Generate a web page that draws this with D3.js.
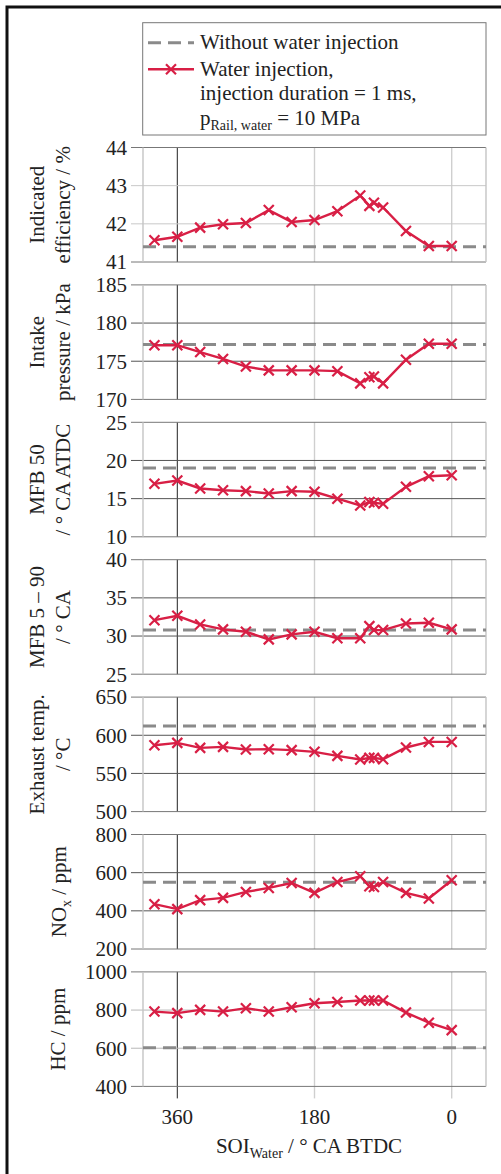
<!DOCTYPE html>
<html>
<head>
<meta charset="utf-8">
<title>Water injection SOI sweep</title>
<script src="https://d3js.org/d3.v7.min.js"></script>
<style>
  body { margin: 0; background: #fff; }
  svg text { font-family: "Liberation Serif", "Times New Roman", Times, "DejaVu Serif", serif; fill: #222; }
</style>
</head>
<body>
<svg id="chart" width="501" height="1174"></svg>
<script>
// start of water injection, ° CA BTDC
const soi = [390, 360, 330, 300, 270, 240, 210, 180, 150, 120, 108, 102, 90, 60, 30, 0];

// water injection series, one per panel
const efficiency     = [41.57, 41.66, 41.9, 41.99, 42.02, 42.36, 42.05, 42.1, 42.33, 42.74, 42.47, 42.55, 42.43, 41.81, 41.42, 41.42];
const intakePressure = [177.1, 177.1, 176.2, 175.3, 174.3, 173.8, 173.8, 173.8, 173.7, 172.1, 172.9, 173.0, 172.1, 175.2, 177.3, 177.3];
const mfb50          = [16.94, 17.37, 16.33, 16.1, 15.98, 15.68, 15.98, 15.9, 14.99, 14.1, 14.55, 14.45, 14.34, 16.55, 17.93, 18.06];
const mfb590         = [32.08, 32.65, 31.52, 30.87, 30.56, 29.56, 30.22, 30.56, 29.7, 29.7, 31.3, 30.78, 30.78, 31.65, 31.73, 30.87];
const exhaustTemp    = [587, 590, 583.5, 584.8, 581.4, 581.8, 580.5, 578.3, 573, 568.3, 570.4, 570.4, 568.7, 584, 591.3, 591.3];
const nox            = [435, 409, 456, 468, 499, 520, 546, 494, 551, 581, 529, 525, 551, 494, 465, 560];
const hc             = [792, 784, 801, 792, 810, 792, 815, 836, 842, 850, 850, 850, 850, 787, 734, 695];

// reference without water injection
const baseline = [41.4, 177.2, 19.0, 30.8, 612, 550, 603];

// y tick values per panel
const ticksEff  = [41, 42, 43, 44];
const ticksPres = [170, 175, 180, 185];
const ticksMfb50 = [10, 15, 20, 25];
const ticksMfb590 = [25, 30, 35, 40];
const ticksExh  = [500, 550, 600, 650];
const ticksNox  = [200, 400, 600, 800];
const ticksHc   = [400, 600, 800, 1000];

const xTicks = [360, 180, 0];

const red = "#d81f45";
const dashGray = "#8a8a8a";

const panels = [
  { values: efficiency, ticks: ticksEff, label: ["Indicated", "efficiency / %"], grid: "#c8c8c8" },
  { values: intakePressure, ticks: ticksPres, label: ["Intake", "pressure / kPa"], grid: "#555" },
  { values: mfb50, ticks: ticksMfb50, label: ["MFB 50", "/ ° CA ATDC"], grid: "#555" },
  { values: mfb590, ticks: ticksMfb590, label: ["MFB 5 – 90", "/ ° CA"], grid: "#555" },
  { values: exhaustTemp, ticks: ticksExh, label: ["Exhaust temp.", "/ °C"], grid: "#555" },
  { values: nox, ticks: ticksNox, label: ["NOx"], grid: "#555" },
  { values: hc, ticks: ticksHc, label: ["HC / ppm"], grid: "#b8b8b8" }
];

const svg = d3.select("#chart");

// outer frame (only the top and left edges fall inside the picture)
svg.append("rect")
  .attr("x", 7).attr("y", 7)
  .attr("width", 520).attr("height", 1200)
  .attr("fill", "none").attr("stroke", "#111").attr("stroke-width", 3);

const left = 143, right = 486;
const x = d3.scaleLinear().domain([405, -45]).range([left, right]);

const top0 = 147.5, pitch = 137.4, ph = 114.5;

// X shape marker
function cross(sel, s) {
  sel.append("path")
    .attr("d", `M${-s},${-s}L${s},${s}M${-s},${s}L${s},${-s}`)
    .attr("stroke", red).attr("stroke-width", 2.2).attr("fill", "none");
}

panels.forEach(function (p, i) {
  const top = top0 + i * pitch;
  const bottom = top + ph;
  const ext = d3.extent(p.ticks);
  const y = d3.scaleLinear().domain(ext).range([bottom, top]);

  const g = svg.append("g");

  // vertical grid
  g.selectAll(".vg").data(xTicks).enter().append("line")
    .attr("x1", d => x(d)).attr("x2", d => x(d))
    .attr("y1", top).attr("y2", i === panels.length - 1 ? bottom + 12 : bottom)
    .attr("stroke", d => d === 360 ? "#222" : "#cfcfcf")
    .attr("stroke-width", d => d === 360 ? 1 : 1.4);

  // horizontal grid + ticks
  g.selectAll(".hg").data(p.ticks).enter().append("line")
    .attr("x1", left - 12).attr("x2", right)
    .attr("y1", d => y(d)).attr("y2", d => y(d))
    .attr("stroke", d => (d === ext[0] || d === ext[1]) ? "#777" : p.grid)
    .attr("stroke-width", 1);

  // side edges
  [left, right].forEach(function (xx) {
    g.append("line")
      .attr("x1", xx).attr("x2", xx).attr("y1", top).attr("y2", bottom)
      .attr("stroke", "#c4c4c4").attr("stroke-width", 1.4);
  });

  // tick labels
  g.selectAll(".tl").data(p.ticks).enter().append("text")
    .attr("x", 127).attr("y", d => y(d))
    .attr("dy", "0.35em")
    .attr("text-anchor", "end")
    .attr("font-size", 21)
    .text(d => d);

  // baseline without water injection
  g.append("line")
    .attr("x1", left).attr("x2", right)
    .attr("y1", y(baseline[i])).attr("y2", y(baseline[i]))
    .attr("stroke", dashGray).attr("stroke-width", 3)
    .attr("stroke-dasharray", "13,7");

  // water injection line
  const line = d3.line().x((d, k) => x(soi[k])).y(d => y(d));
  g.append("path")
    .datum(p.values)
    .attr("d", line)
    .attr("fill", "none").attr("stroke", red).attr("stroke-width", 2.4);

  g.selectAll(".mk").data(p.values).enter().append("g")
    .attr("transform", (d, k) => `translate(${x(soi[k])},${y(d)})`)
    .each(function () { cross(d3.select(this), 5); });

  // y label
  const cy = (top + bottom) / 2;
  if (p.label.length === 2) {
    [37, 63].forEach(function (lx, k) {
      svg.append("text")
        .attr("transform", `translate(${lx + 7},${cy}) rotate(-90)`)
        .attr("text-anchor", "middle")
        .attr("font-size", 21)
        .text(p.label[k]);
    });
  } else if (p.label[0] === "NOx") {
    const t = svg.append("text")
      .attr("transform", `translate(${66},${cy}) rotate(-90)`)
      .attr("text-anchor", "middle")
      .attr("font-size", 21);
    t.append("tspan").text("NO");
    t.append("tspan").attr("font-size", 14).attr("dy", 5).text("x");
    t.append("tspan").attr("dy", -5).text(" / ppm");
  } else {
    svg.append("text")
      .attr("transform", `translate(${65},${cy}) rotate(-90)`)
      .attr("text-anchor", "middle")
      .attr("font-size", 21)
      .text(p.label[0]);
  }
});

// x axis labels
const lastBottom = top0 + (panels.length - 1) * pitch + ph;
svg.selectAll(".xl").data(xTicks).enter().append("text")
  .attr("x", d => x(d)).attr("y", lastBottom + 38)
  .attr("text-anchor", "middle")
  .attr("font-size", 21)
  .text(d => d);

const xt = svg.append("text")
  .attr("x", 309).attr("y", lastBottom + 67)
  .attr("text-anchor", "middle")
  .attr("font-size", 21);
xt.append("tspan").text("SOI");
xt.append("tspan").attr("font-size", 14).attr("dy", 5).text("Water");
xt.append("tspan").attr("dy", -5).text(" / ° CA BTDC");

// legend
const lg = svg.append("g");
lg.append("rect")
  .attr("x", 142.7).attr("y", 22.7).attr("width", 343.3).attr("height", 112.3)
  .attr("fill", "#fff").attr("stroke", "#777").attr("stroke-width", 1);

lg.append("line")
  .attr("x1", 148).attr("x2", 194).attr("y1", 42.7).attr("y2", 42.7)
  .attr("stroke", dashGray).attr("stroke-width", 3).attr("stroke-dasharray", "13,7");
lg.append("text").attr("x", 200).attr("y", 49).attr("font-size", 21).text("Without water injection");

lg.append("line")
  .attr("x1", 148).attr("x2", 194).attr("y1", 69.3).attr("y2", 69.3)
  .attr("stroke", red).attr("stroke-width", 2.4);
lg.append("g").attr("transform", "translate(171,69.3)").call(cross, 5);
lg.append("text").attr("x", 200).attr("y", 76).attr("font-size", 21).text("Water injection,");
lg.append("text").attr("x", 200).attr("y", 100).attr("font-size", 21).text("injection duration = 1 ms,");
const lp = lg.append("text").attr("x", 200).attr("y", 125).attr("font-size", 21);
lp.append("tspan").text("p");
lp.append("tspan").attr("font-size", 14).attr("dy", 5).text("Rail, water");
lp.append("tspan").attr("dy", -5).text(" = 10 MPa");
</script>
</body>
</html>
